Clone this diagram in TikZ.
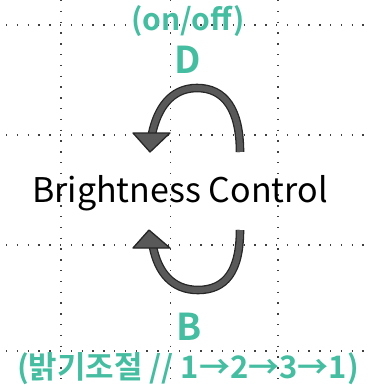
\documentclass[tikz,border=0pt]{standalone}
\usepackage{fontspec}
\setmainfont{Noto Sans CJK KR}[BoldFont={Noto Sans CJK KR Bold}]
\definecolor{mint}{RGB}{68,189,160}
\tikzset{
  gridline/.style={line width=1.4pt, dash pattern=on 1.4pt off 9.4pt, black!75},
  keylabel/.style={anchor=base, text=mint, font=\bfseries\fontsize{37}{40}\selectfont},
  notelabel/.style={anchor=base, text=mint, font=\bfseries\fontsize{30}{32}\selectfont},
  turnshaft/.style={draw=black!85, line width=1.3pt, double=black!65, double distance=6pt},
  turnhead/.style={fill=black!65, draw=black!85, line width=1.3pt, line join=round}
}
\begin{document}
\begin{tikzpicture}[x=1pt,y=-1pt]
  \useasboundingbox (0,0) rectangle (369,388);

  % dotted guides
  \draw[gridline] (61,0) -- +(0,388);
  \draw[gridline] (170.5,0) -- +(0,388);
  \draw[gridline] (278,0) -- +(0,388);
  \draw[gridline] (6,25) -- +(363,0);
  \draw[gridline] (6,135) -- +(363,0);
  \draw[gridline] (6,245) -- +(363,0);
  \draw[gridline] (6,351) -- +(363,0);

  \node[notelabel] (onoff) at (188,30) {(on/off)};
  \node[keylabel] (keyD) at (188,73) {D};
  \node[anchor=base, font=\fontsize{34}{36}\selectfont] (title) at (180,202)
    {Brightness Control};
  \node[keylabel] (keyB) at (189,340) {B};
  \node[notelabel, font=\bfseries\fontsize{31}{33}\selectfont] (note) at (188,378)
    {(밝기조절 // 1→2→3→1)};

  % upper turn
  \draw[turnshaft] (240,152) .. controls (240,110) and (225,88) .. (197,88)
    .. controls (170,88) and (157,110) .. (152,134);
  \draw[turnhead] (133,133) -- (170,133) -- (150,152) -- cycle;

  % lower turn
  \draw[turnshaft] (240,230) .. controls (240,272) and (225,290) .. (198,290)
    .. controls (172,290) and (158,272) .. (153,247);
  \draw[turnhead] (133,248) -- (170,248) -- (149,230) -- cycle;
\end{tikzpicture}
\end{document}
